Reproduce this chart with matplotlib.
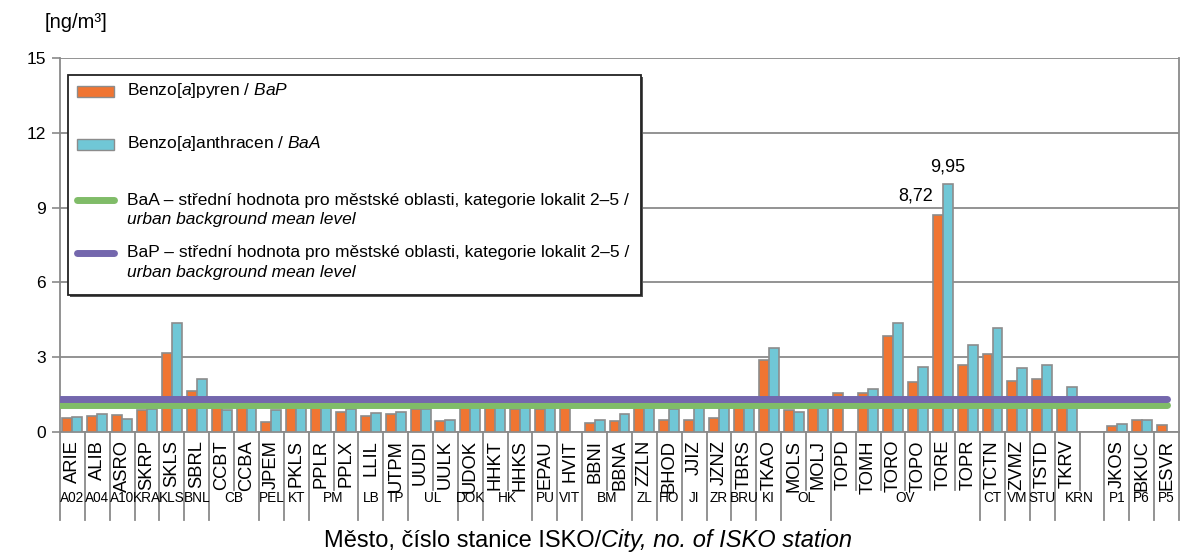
import numpy as np
import matplotlib
matplotlib.use("Agg")
import matplotlib.pyplot as plt
from matplotlib.patches import Rectangle
from matplotlib.lines import Line2D

plt.rcParams["font.family"] = ["Liberation Sans", "DejaVu Sans"]
plt.rcParams["mathtext.fontset"] = "custom"
plt.rcParams["mathtext.rm"] = "Liberation Sans"
plt.rcParams["mathtext.it"] = "Liberation Sans:italic"

# ── data ─────────────────────────────────────────────────────────────
stations = ["ARIE", "ALIB", "ASRO", "SKRP", "SKLS", "SBRL", "CCBT", "CCBA", "JPEM",
            "PKLS", "PPLR", "PPLX", "LLIL", "UTPM", "UUDI", "UULK", "UDOK", "HHKT",
            "HHKS", "EPAU", "HVIT", "BBNI", "BBNA", "ZZLN", "BHOD", "JJIZ", "JZNZ",
            "TBRS", "TKAO", "MOLS", "MOLJ", "TOPD", "TOMH", "TORO", "TOPO", "TORE",
            "TOPR", "TCTN", "ZVMZ", "TSTD", "TKRV", "", "JKOS", "BKUC", "ESVR"]
group_labels = ["A02", "A04", "A10", "KRA", "KLS", "BNL", "CB", "PEL", "KT", "PM",
                "LB", "TP", "UL", "DOK", "HK", "PU", "VIT", "BM", "ZL", "HO", "JI",
                "ZR", "BRU", "KI", "OL", "OV", "CT", "VM", "STU", "KRN", "P1", "P6", "P5"]
group_sizes = [1, 1, 1, 1, 1, 1, 2, 1, 1, 2,
               1, 1, 2, 1, 2, 1, 1, 2, 1, 1, 1,
               1, 1, 1, 2, 6, 1, 1, 1, 2, 1, 1, 1]
nan = np.nan
bap = [0.58, 0.64, 0.68, 0.87, 3.17, 1.64, 1.15, 1.20, 0.40,
       1.20, 1.15, 0.82, 0.63, 0.71, 0.94, 0.43, 1.20, 1.20,
       0.92, 0.92, 1.10, 0.38, 0.43, 1.10, 0.47, 0.50, 0.58,
       1.15, 2.88, 0.88, 1.10, 1.58, 1.56, 3.84, 2.02, 8.72,
       2.69, 3.13, 2.05, 2.14, 1.20, nan, 0.24, 0.47, 0.30]
baa = [0.62, 0.74, 0.51, 0.91, 4.37, 2.14, 0.88, 1.25, 0.87,
       1.25, 1.10, 0.91, 0.76, 0.82, 0.91, 0.50, 1.20, 1.15,
       1.05, 1.05, nan, 0.47, 0.72, 1.05, 0.91, 1.05, 1.05,
       1.20, 3.36, 0.79, 1.20, nan, 1.73, 4.37, 2.61, 9.95,
       3.49, 4.19, 2.57, 2.70, 1.82, nan, 0.31, 0.50, nan]
baa_mean = 1.08
bap_mean = 1.31

ORANGE = "#F07532"
BLUE = "#70C7D6"
GREEN = "#80BC68"
PURPLE = "#7467AD"
EDGE = "#8C8C8C"
GRID = "#8A8A8A"

W, H = 1181, 554


def fp(px, py):
    return px / W, 1 - py / H


fig = plt.figure(figsize=(W / 100, H / 100), dpi=100)
ax = fig.add_axes([60 / W, 1 - 432 / H, 1119 / W, 374 / H])

n = len(stations)
x = np.arange(n)
ax.bar(x - 0.2, bap, width=0.4, color=ORANGE, edgecolor=EDGE, linewidth=1.2, zorder=3)
ax.bar(x + 0.2, baa, width=0.4, color=BLUE, edgecolor=EDGE, linewidth=1.2, zorder=3)
ax.plot([-0.5, n - 1], [baa_mean, baa_mean], color=GREEN, lw=5, solid_capstyle="round", zorder=4)
ax.plot([-0.5, n - 1], [bap_mean, bap_mean], color=PURPLE, lw=5, solid_capstyle="round", zorder=5)

ax.set_xlim(-0.5, n - 0.5)
ax.set_ylim(0, 15)
ax.set_yticks(np.arange(0, 16, 3))
ax.tick_params(axis="y", length=6, width=1.2, color=GRID, labelsize=12.5, pad=4)
ax.set_xticks([])
ax.yaxis.grid(True, color=GRID, lw=1.3, zorder=0)
ax.set_axisbelow(True)
for s in ("left", "bottom", "right"):
    ax.spines[s].set_color(GRID)
    ax.spines[s].set_linewidth(1.3)
ax.spines["top"].set_visible(False)

# category labels and separators
tr = ax.get_xaxis_transform()
for i, name in enumerate(stations):
    ax.text(i, -8 / 374, name, rotation=90, ha="center", va="top",
            fontsize=13.2, transform=tr)
bounds = np.cumsum([0] + group_sizes)
group_edges = set(bounds.tolist())
for b in range(n + 1):
    y1 = -88 / 374 if b in group_edges else -58 / 374
    ax.plot([b - 0.5, b - 0.5], [0, y1], color=GRID, lw=1.3, transform=tr, clip_on=False)
for lab, b0, sz in zip(group_labels, bounds[:-1], group_sizes):
    ax.text(b0 + sz / 2 - 0.5, -66 / 374, lab, ha="center", va="center",
            fontsize=9.8, transform=tr)

# value labels for TORE
i_tore = stations.index("TORE")
ax.annotate(f"{bap[i_tore]:.2f}".replace(".", ","), xy=(i_tore - 0.4, bap[i_tore]),
            xytext=(0, 14), textcoords="offset pixels", ha="right", va="baseline", fontsize=13)
ax.annotate(f"{baa[i_tore]:.2f}".replace(".", ","), xy=(i_tore + 0.2, baa[i_tore]),
            xytext=(0, 12), textcoords="offset pixels", ha="center", va="baseline", fontsize=13)

# unit label
fig.text(*fp(45, 22), "[ng/m³]", ha="left", va="center", fontsize=14.5)

# x axis title: upright + italic parts
renderer = fig.canvas.get_renderer()
t1 = fig.text(0, 0, "Město, číslo stanice ISKO/", fontsize=17)
t2 = fig.text(0, 0, "City, no. of ISKO station", fontsize=17, style="italic")
w1 = t1.get_window_extent(renderer).width
w2 = t2.get_window_extent(renderer).width
x0 = 588 - (w1 + w2) / 2
t1.set_position(fp(x0, 541))
t1.set_va("center")
t2.set_position(fp(x0 + w1, 541))
t2.set_va("center")

# legend box
box_w, box_h = 573, 220
shadow = Rectangle(fp(70, 297), box_w / W, box_h / H, transform=fig.transFigure,
                   facecolor="#555555", edgecolor="none", zorder=9)
box = Rectangle(fp(68, 295), box_w / W, box_h / H, transform=fig.transFigure,
                facecolor="white", edgecolor="#222222", lw=1.3, zorder=10)
fig.add_artist(shadow)
fig.add_artist(box)
fig.add_artist(Rectangle(fp(77, 97), 37 / W, 11 / H, transform=fig.transFigure,
                         facecolor=ORANGE, edgecolor=EDGE, lw=1.0, zorder=11))
fig.add_artist(Rectangle(fp(77, 150), 37 / W, 11 / H, transform=fig.transFigure,
                         facecolor=BLUE, edgecolor=EDGE, lw=1.0, zorder=11))
for py, col in ((200, GREEN), (253, PURPLE)):
    xa, ya = fp(77, py)
    xb, _ = fp(114, py)
    fig.add_artist(Line2D([xa, xb], [ya, ya], color=col, lw=5, transform=fig.transFigure,
                          solid_capstyle="round", zorder=11))

leg_fs = 12.5
fig.text(*fp(127, 91), r"Benzo[$a$]pyren / $BaP$", ha="left", va="center", fontsize=leg_fs, zorder=12)
fig.text(*fp(127, 144), r"Benzo[$a$]anthracen / $BaA$", ha="left", va="center", fontsize=leg_fs, zorder=12)
fig.text(*fp(127, 200), "BaA – střední hodnota pro městské oblasti, kategorie lokalit 2–5 /",
         ha="left", va="center", fontsize=leg_fs, zorder=12)
fig.text(*fp(127, 219), "urban background mean level", style="italic",
         ha="left", va="center", fontsize=leg_fs, zorder=12)
fig.text(*fp(127, 253), "BaP – střední hodnota pro městské oblasti, kategorie lokalit 2–5 /",
         ha="left", va="center", fontsize=leg_fs, zorder=12)
fig.text(*fp(127, 272), "urban background mean level", style="italic",
         ha="left", va="center", fontsize=leg_fs, zorder=12)

fig.savefig("out.png", dpi=100)
